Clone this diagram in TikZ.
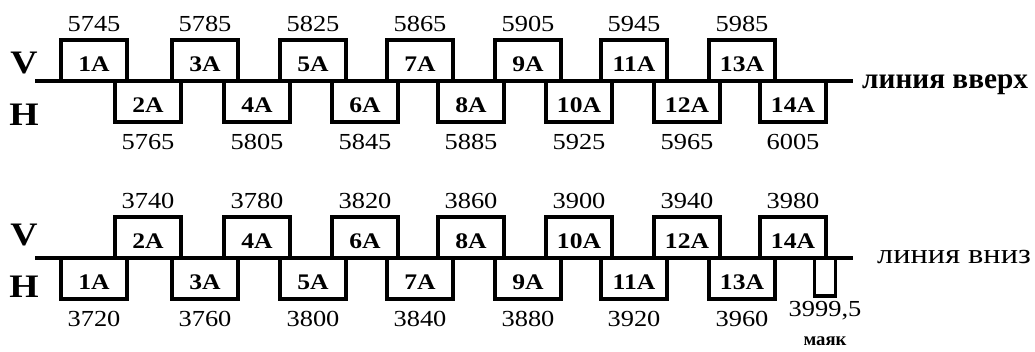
\documentclass[tikz,border=0pt]{standalone}
\usepackage{fontspec}
\setmainfont{Liberation Serif}[FakeStretch=1.15]
\newfontfamily\rufont{Liberation Serif}
\usetikzlibrary{positioning}

\tikzset{
  blk/.style={draw, line width=2.6pt, outer sep=0pt, minimum width=1.98cm, minimum height=1.23cm,
    text height=0.66cm, text depth=0pt, font=\fontsize{19}{22}\selectfont\bfseries},
  num/.style={inner sep=0pt, font=\fontsize{19.6}{22}\selectfont},
  vh/.style={inner sep=0pt, font=\fontsize{28}{32}\selectfont\bfseries},
  track/.style={line width=2.6pt}
}

\begin{document}
\begin{tikzpicture}[x=0.03cm, y=-0.03cm]
  \useasboundingbox (0,0) rectangle (1035,351);

  % line up
  \coordinate (us) at (35,81);
  \coordinate (ue) at (853,81);
  \draw[track] (us) -- (ue);
  \node[vh] (uv) at (24,63) {V};
  \node[vh] (uh) at (24,115) {H};
  \node[anchor=base west, inner sep=0pt, font=\rufont\fontsize{25}{28}\selectfont\bfseries] (ut) at (862,88) {линия вверх};

  % line down
  \coordinate (ds) at (35,258);
  \coordinate (de) at (853,258);
  \draw[track] (ds) -- (de);
  \node[vh] (dv) at (24,235) {V};
  \node[vh] (dh) at (24,287) {H};
  \node[anchor=base west, inner sep=0pt, font=\fontsize{24}{28}\selectfont] (dt) at (877,263) {линия вниз};

  % odd blocks
  \foreach \i/\x in {1/94,3/205,5/313,7/420,9/528,11/634,13/742} {
    \node[blk, anchor=south] (u\i) at (\x,81) {\i A};
    \pgfmathtruncatemacro\n{5725+20*\i}
    \node[num, above=0.24cm of u\i] {\n};
    \node[blk, anchor=north] (d\i) at (\x,258) {\i A};
    \pgfmathtruncatemacro\m{3700+20*\i}
    \node[num, below=0.36cm of d\i] {\m};
  }
  % even blocks
  \foreach \i/\x in {2/148,4/257,6/365,8/471,10/579,12/687,14/793} {
    \node[blk, anchor=north] (u\i) at (\x,81) {\i A};
    \pgfmathtruncatemacro\n{5725+20*\i}
    \node[num, below=0.36cm of u\i] {\n};
    \node[blk, anchor=south] (d\i) at (\x,258) {\i A};
    \pgfmathtruncatemacro\m{3700+20*\i}
    \node[num, above=0.24cm of d\i] {\m};
  }

  % beacon
  \node[draw, line width=2.6pt, outer sep=0pt, anchor=north, minimum width=0.63cm, minimum height=1.14cm] (mk) at (825,258) {};
  \node[num, below=0.15cm of mk] (mkn) {3999,5};
  \node[inner sep=0pt, font=\rufont\fontsize{16}{18}\selectfont\bfseries, below=0.5cm of mkn] (mkt) {маяк};
\end{tikzpicture}
\end{document}
